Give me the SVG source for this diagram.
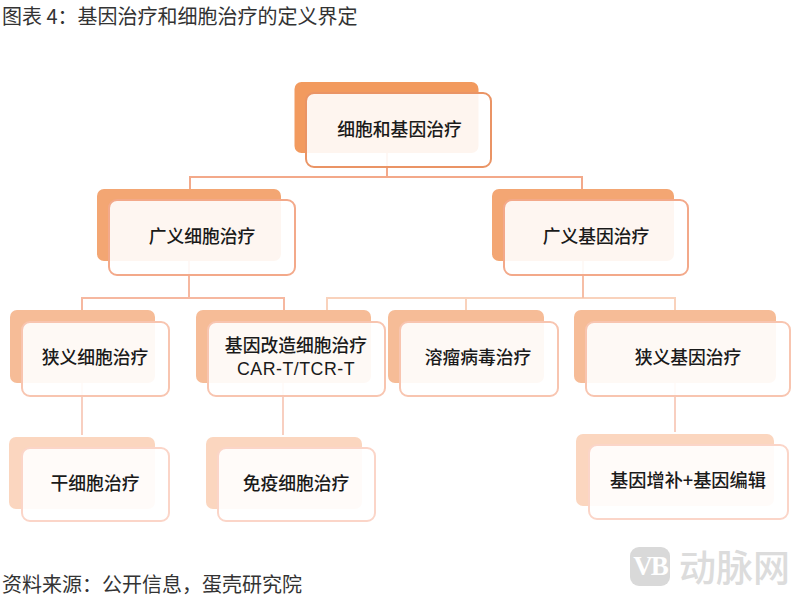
<svg xmlns="http://www.w3.org/2000/svg" width="800" height="597" viewBox="0 0 800 597">
<style>
text{font-family:"Noto Sans CJK SC","Noto Sans",sans-serif;fill:#1a1a1a}
.c{text-anchor:middle;font-size:17.8px;font-weight:500}
.cap{font-size:20px;fill:#333}
.f{fill:#fff;fill-opacity:.9;stroke-width:2}
.con path{fill:none;stroke-width:2}
.l1 .b{fill:#f29a5e}.l1 .f{stroke:#ea9465}
.l2 .b{fill:#f3a673}.l2 .f{stroke:#f3a98a}
.l3 .b{fill:#f6bc97}.l3 .f{stroke:#f8c5b0}
.l4 .b{fill:#fbd6bf}.l4 .f{stroke:#fbd5c8}
</style>
<rect width="800" height="597" fill="#fff"/>
<text class="cap" x="2" y="24">图表 4：基因治疗和细胞治疗的定义界定</text>
<g id="connectors" class="con">
<path stroke="#f3a98a" d="M387 150V177M190 189V177H582V189"/>
<path stroke="#f6b8a0" d="M189 260V298M82 310V298H284V310"/>
<path stroke="#f9d2bc" d="M327 310V298H675V310M466 298V310"/>
<path stroke="#f6bea6" d="M583 260V298"/>
<path stroke="#f8cfc0" d="M82 380V435M283 380V435M675 380V432"/>
</g>
<g id="n1" class="l1"><rect class="b" x="294.500" y="82" width="184" height="71" rx="7"/><rect class="f" x="306" y="93" width="185" height="74" rx="8"/><text class="c" x="399.500" y="136">细胞和基因治疗</text></g>
<g id="n2" class="l2"><rect class="b" x="97" y="189" width="184" height="72" rx="7"/><rect class="f" x="109" y="200" width="186" height="75" rx="8"/><text class="c" x="202" y="243">广义细胞治疗</text></g>
<g id="n3" class="l2"><rect class="b" x="492" y="189" width="182" height="72" rx="7"/><rect class="f" x="504" y="200" width="184" height="75" rx="8"/><text class="c" x="596" y="243">广义基因治疗</text></g>
<g id="n4" class="l3"><rect class="b" x="10" y="310" width="145" height="73" rx="7"/><rect class="f" x="22" y="322" width="147" height="74" rx="8"/><text class="c" x="95" y="364">狭义细胞治疗</text></g>
<g id="n5" class="l3"><rect class="b" x="196" y="310" width="175" height="73" rx="7"/><rect class="f" x="208" y="322" width="177" height="74" rx="8"/><text class="c" x="296" y="352">基因改造细胞治疗</text><text class="c" x="296" y="375" style="font-family:'Liberation Sans',sans-serif;letter-spacing:.5px">CAR-T/TCR-T</text></g>
<g id="n6" class="l3"><rect class="b" x="388" y="310" width="156" height="73" rx="7"/><rect class="f" x="400" y="322" width="158" height="74" rx="8"/><text class="c" x="478" y="364">溶瘤病毒治疗</text></g>
<g id="n7" class="l3"><rect class="b" x="574" y="310" width="202" height="73" rx="7"/><rect class="f" x="586" y="322" width="204" height="74" rx="8"/><text class="c" x="688" y="364">狭义基因治疗</text></g>
<g id="n8" class="l4"><rect class="b" x="9" y="437" width="146" height="72" rx="7"/><rect class="f" x="22" y="448" width="147" height="73" rx="8"/><text class="c" x="95" y="490">干细胞治疗</text></g>
<g id="n9" class="l4"><rect class="b" x="206" y="437" width="156" height="72" rx="7"/><rect class="f" x="218" y="448" width="157" height="73" rx="8"/><text class="c" x="296" y="490">免疫细胞治疗</text></g>
<g id="n10" class="l4"><rect class="b" x="576" y="434" width="198" height="72" rx="7"/><rect class="f" x="589" y="445" width="199" height="74" rx="8"/><text class="c" x="688" y="487" style="font-size:18.2px">基因增补+基因编辑</text></g>
<text class="cap" x="2" y="592">资料来源：公开信息，蛋壳研究院</text>
<g id="watermark"><rect x="630" y="547" width="40" height="39" rx="9" fill="#d9d9d9"/><text x="650" y="575" text-anchor="middle" style="font-size:27px;font-weight:700;fill:#fff;font-family:'Liberation Serif',serif;letter-spacing:-2px">VB</text><text x="679" y="582" style="font-size:37px;font-weight:500;fill:#dcdcdc">动脉网</text></g>
</svg>
